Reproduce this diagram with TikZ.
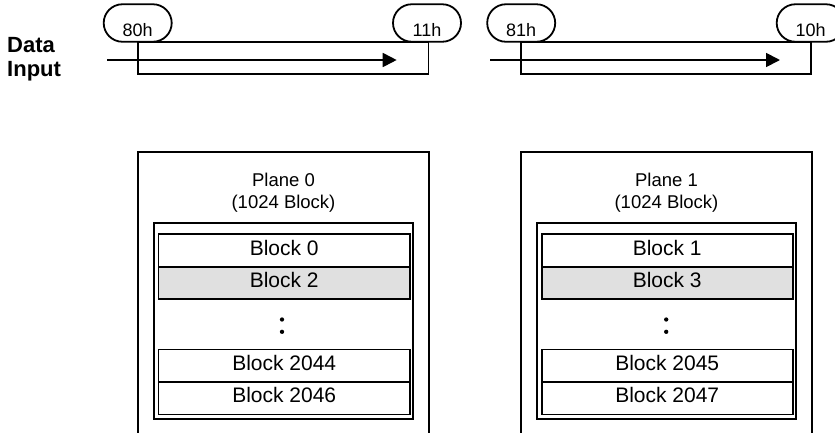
\documentclass[tikz,border=0pt]{standalone}
\usepackage{fontspec}
\setmainfont{Liberation Sans}
\usetikzlibrary{shapes.misc,arrows.meta}
\definecolor{blockgray}{RGB}{224,224,224}
\newcommand{\pilltext}[1]{\raisebox{-2pt}{#1}}
\begin{document}
\begin{tikzpicture}[x=1pt,y=-1pt,
  lw/.style={line width=1.8pt},
  pill/.style={rounded rectangle, draw, lw, fill=white, minimum width=68pt, minimum height=37.5pt,
    inner sep=0pt, text height=23pt, text depth=0pt, font=\fontsize{18}{20}\selectfont},
  seqbox/.style={draw, lw},
  flowarrow/.style={lw, -{Triangle[length=14pt,width=14pt]}},
  planebox/.style={draw, line width=2pt},
  innerbox/.style={draw, line width=2pt},
  blockbox/.style={draw, line width=1.6pt, minimum height=32.5pt, inner sep=0pt,
    text height=13pt, text depth=4pt, font=\fontsize{21}{24}\selectfont},
  planelabel/.style={anchor=base, inner sep=0pt, font=\fontsize{18.5}{21}\selectfont},
  datalabel/.style={anchor=base west, inner sep=0pt, font=\fontsize{22}{24}\selectfont\bfseries},
  dot/.style={circle, fill=black, inner sep=0pt, minimum size=4.3pt}
]
\path[use as bounding box, clip] (0,0) rectangle (835,432);

% Data Input label
\node[datalabel] (data) at (7,52.3) {Data};
\node[datalabel] (input) at (7,76.7) {Input};

% sequence 1
\draw[seqbox] (137.7,42) rectangle (428.5,74);
\node[pill] (p80) at (137.7,23) {\pilltext{80h}};
\node[pill] (p11) at (427,23) {\pilltext{11h}};
\coordinate (a1s) at (107.3,60);
\coordinate (a1e) at (396.7,60);
\draw[flowarrow] (a1s) -- (a1e);

% sequence 2
\draw[seqbox] (521.2,42) rectangle (810.7,74);
\node[pill] (p81) at (521.2,23) {\pilltext{81h}};
\node[pill] (p10) at (810.7,23) {\pilltext{10h}};
\coordinate (a2s) at (490,60);
\coordinate (a2e) at (780,60);
\draw[flowarrow] (a2s) -- (a2e);

% Plane 0
\draw[planebox] (137.5,152) rectangle (429,450);
\node[planelabel] (pl0a) at (283.5,186.7) {Plane 0};
\node[planelabel] (pl0b) at (283.5,208.3) {(1024 Block)};
\draw[innerbox] (154.3,222.7) rectangle (413.3,419.3);
\node[blockbox, minimum width=251.7pt] (b0) at (284.2,250.5) {Block 0};
\node[blockbox, minimum width=251.7pt, fill=blockgray] (b2) at (284.2,283) {Block 2};
\node[dot] (d0a) at (282,319.5) {};
\node[dot] (d0b) at (282,331.8) {};
\node[blockbox, minimum width=251.7pt] (b2044) at (284.2,365.7) {Block 2044};
\node[blockbox, minimum width=251.7pt] (b2046) at (284.2,398.2) {Block 2046};

% Plane 1
\draw[planebox] (520.7,152) rectangle (811.7,450);
\node[planelabel] (pl1a) at (666.5,186.7) {Plane 1};
\node[planelabel] (pl1b) at (666.5,208.3) {(1024 Block)};
\draw[innerbox] (537.3,222.7) rectangle (796,419.3);
\node[blockbox, minimum width=251pt] (b1) at (667.2,250.5) {Block 1};
\node[blockbox, minimum width=251pt, fill=blockgray] (b3) at (667.2,283) {Block 3};
\node[dot] (d1a) at (666.2,319.5) {};
\node[dot] (d1b) at (666.2,331.8) {};
\node[blockbox, minimum width=251pt] (b2045) at (667.2,365.7) {Block 2045};
\node[blockbox, minimum width=251pt] (b2047) at (667.2,398.2) {Block 2047};
\end{tikzpicture}
\end{document}
